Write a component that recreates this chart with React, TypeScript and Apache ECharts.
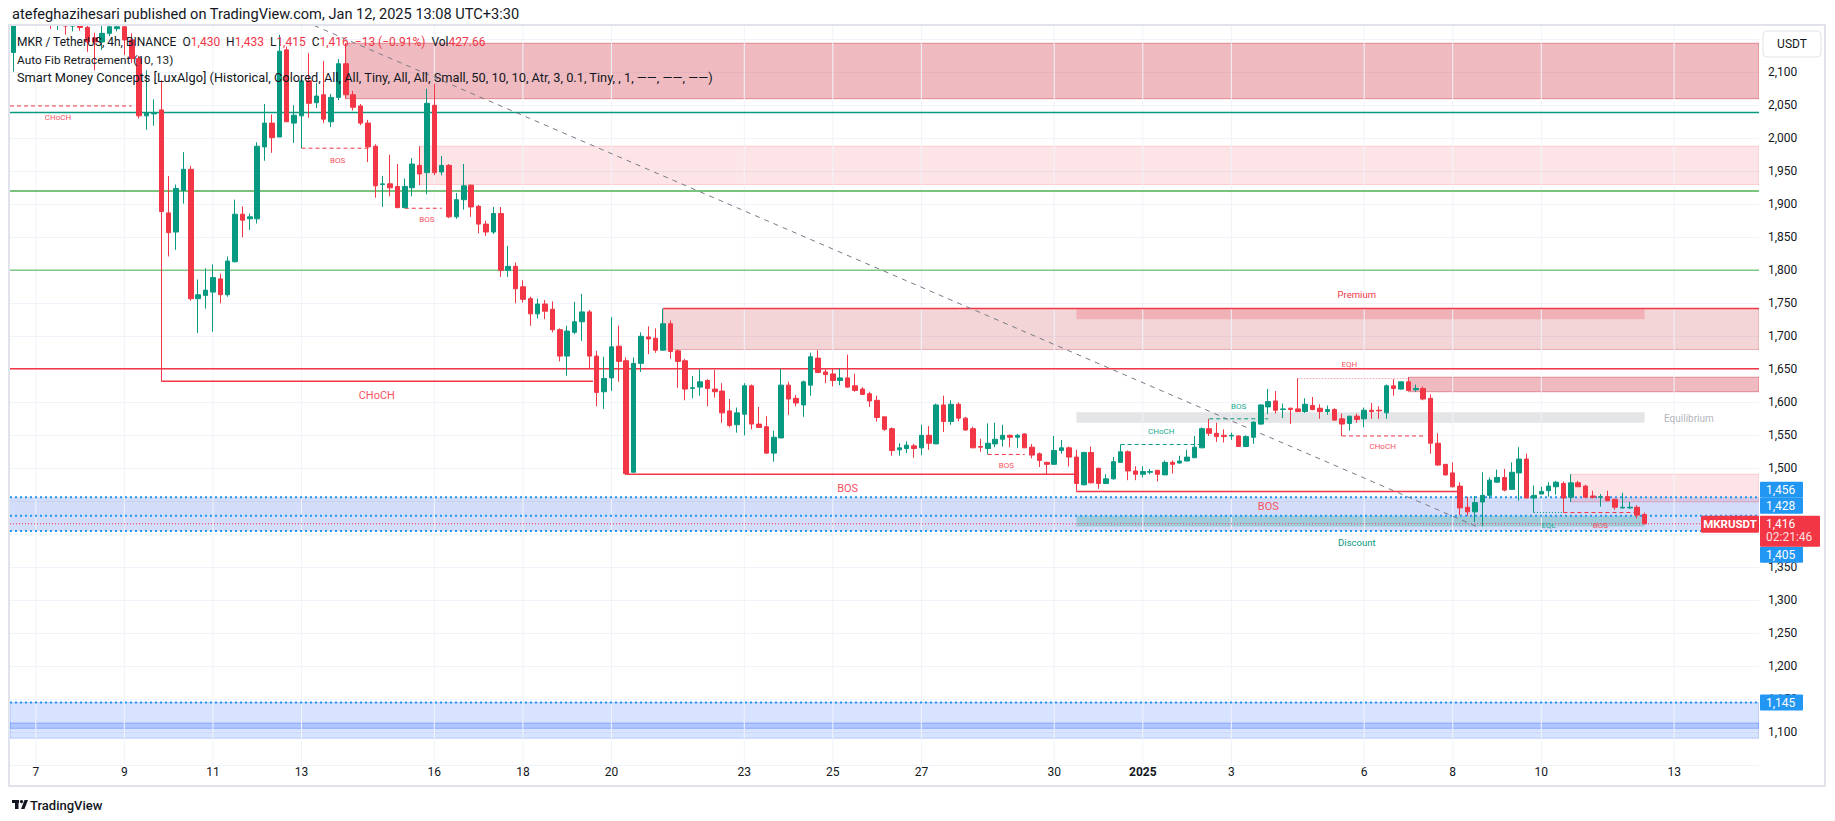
import React, { useEffect, useRef } from 'react';
import * as echarts from 'echarts';

// ---------- data ----------
const SLOTS = 237; // 4h slots on the time axis (222 candles + empty right margin)

// date labels on the time axis: [slot index, label]
const dayLabels: [number, string][] = [
  [3, '7'], [15, '9'], [27, '11'], [39, '13'], [57, '16'], [69, '18'], [81, '20'],
  [99, '23'], [111, '25'], [123, '27'], [141, '30'], [153, '2025'], [165, '3'],
  [183, '6'], [195, '8'], [207, '10'], [225, '13'],
];

// price-axis labels hidden behind the price tags
const hiddenPriceLabels = [1400, 1450];

// 4h candles [open, close, low, high]
const ohlc: number[][] = [
  [2130, 2185, 2101, 2200], [2185, 2205, 2178, 2215], [2205, 2195, 2185, 2220], [2195, 2210, 2188, 2225],
  [2210, 2190, 2180, 2218], [2190, 2178, 2166, 2200], [2178, 2190, 2164, 2198], [2192, 2170, 2157, 2200],
  [2170, 2182, 2162, 2192], [2182, 2168, 2163, 2190], [2168, 2146, 2131, 2176], [2152, 2146, 2103, 2160],
  [2146, 2159, 2134, 2172], [2159, 2169, 2155, 2178], [2166, 2169, 2162, 2176], [2169, 2149, 2126, 2176],
  [2149, 2121, 2114, 2159], [2121, 2034, 2030, 2125], [2034, 2039, 2013, 2103], [2037, 2039, 2019, 2059],
  [2043, 1889, 1632, 2088], [1887, 1857, 1821, 1943], [1858, 1924, 1831, 1930], [1921, 1953, 1901, 1979],
  [1953, 1757, 1754, 1958], [1757, 1763, 1705, 1786], [1762, 1770, 1742, 1803], [1767, 1789, 1707, 1809],
  [1787, 1763, 1750, 1795], [1763, 1814, 1760, 1821], [1813, 1885, 1812, 1907], [1885, 1876, 1850, 1897],
  [1878, 1881, 1861, 1886], [1878, 1988, 1871, 1994], [1987, 2023, 1966, 2052], [2023, 2001, 1978, 2036],
  [2002, 2132, 2002, 2157], [2134, 2025, 2025, 2139], [2023, 2035, 1993, 2050], [2034, 2087, 1985, 2090],
  [2087, 2053, 2031, 2129], [2054, 2064, 2046, 2084], [2066, 2029, 2023, 2117], [2025, 2062, 2017, 2067],
  [2062, 2113, 2058, 2120], [2113, 2066, 2060, 2144], [2066, 2047, 2042, 2072], [2049, 2023, 2020, 2052],
  [2023, 1987, 1964, 2028], [1988, 1928, 1910, 1991], [1930, 1931, 1896, 1943], [1931, 1925, 1912, 1975],
  [1927, 1895, 1894, 1961], [1895, 1927, 1894, 1939], [1925, 1961, 1912, 1970], [1959, 1946, 1929, 1988],
  [1948, 2053, 1915, 2075], [2050, 1948, 1944, 2083], [1949, 1959, 1944, 1973], [1959, 1881, 1879, 1961],
  [1881, 1907, 1878, 1917], [1907, 1928, 1892, 1961], [1929, 1896, 1881, 1930], [1897, 1870, 1856, 1899],
  [1870, 1858, 1852, 1875], [1858, 1886, 1855, 1896], [1886, 1800, 1790, 1896], [1800, 1806, 1790, 1837],
  [1806, 1772, 1750, 1812], [1775, 1756, 1751, 1785], [1757, 1734, 1716, 1760], [1734, 1749, 1727, 1757],
  [1749, 1738, 1726, 1755], [1741, 1710, 1706, 1753], [1710, 1670, 1662, 1712], [1670, 1708, 1640, 1716],
  [1706, 1722, 1703, 1752], [1722, 1737, 1693, 1764], [1737, 1670, 1651, 1740], [1670, 1615, 1594, 1678],
  [1616, 1636, 1590, 1669], [1637, 1684, 1617, 1729], [1685, 1662, 1631, 1716], [1663, 1492, 1490, 1668],
  [1494, 1659, 1494, 1668], [1659, 1700, 1646, 1706], [1699, 1696, 1673, 1715], [1697, 1679, 1675, 1712],
  [1679, 1719, 1678, 1742], [1719, 1677, 1666, 1724], [1678, 1662, 1622, 1680], [1663, 1620, 1603, 1666],
  [1621, 1622, 1606, 1640], [1623, 1631, 1610, 1650], [1633, 1621, 1594, 1635], [1620, 1616, 1607, 1649],
  [1617, 1584, 1569, 1629], [1587, 1565, 1562, 1605], [1566, 1584, 1554, 1592], [1582, 1625, 1550, 1629],
  [1625, 1567, 1559, 1627], [1567, 1562, 1561, 1593], [1563, 1523, 1522, 1579], [1523, 1547, 1510, 1557],
  [1546, 1626, 1546, 1651], [1626, 1605, 1581, 1631], [1606, 1599, 1594, 1611], [1596, 1631, 1578, 1633],
  [1626, 1669, 1610, 1675], [1667, 1645, 1645, 1679], [1646, 1642, 1629, 1652], [1643, 1633, 1624, 1651],
  [1633, 1637, 1626, 1651], [1637, 1623, 1622, 1672], [1625, 1618, 1616, 1643], [1620, 1612, 1611, 1623],
  [1613, 1602, 1593, 1616], [1603, 1577, 1571, 1610], [1578, 1559, 1557, 1578], [1560, 1527, 1519, 1562],
  [1528, 1531, 1519, 1538], [1530, 1535, 1523, 1541], [1534, 1530, 1516, 1537], [1531, 1550, 1520, 1566],
  [1550, 1538, 1528, 1564], [1537, 1596, 1537, 1598], [1596, 1571, 1555, 1610], [1571, 1597, 1566, 1603],
  [1597, 1576, 1571, 1600], [1576, 1558, 1557, 1578], [1560, 1531, 1531, 1563], [1533, 1532, 1525, 1545],
  [1530, 1538, 1521, 1568], [1537, 1544, 1532, 1569], [1544, 1550, 1533, 1566], [1550, 1547, 1532, 1551],
  [1547, 1550, 1531, 1552], [1552, 1531, 1531, 1553], [1532, 1520, 1515, 1537], [1522, 1512, 1502, 1524],
  [1509, 1506, 1491, 1510], [1506, 1527, 1506, 1549], [1527, 1531, 1522, 1543], [1531, 1517, 1503, 1533],
  [1517, 1477, 1465, 1528], [1475, 1524, 1474, 1525], [1524, 1478, 1477, 1533], [1500, 1477, 1469, 1501],
  [1477, 1484, 1476, 1491], [1484, 1510, 1483, 1517], [1509, 1525, 1509, 1536], [1525, 1496, 1482, 1527],
  [1496, 1491, 1482, 1503], [1491, 1495, 1486, 1503], [1494, 1495, 1491, 1499], [1497, 1491, 1480, 1497],
  [1490, 1509, 1490, 1512], [1509, 1506, 1492, 1512], [1508, 1511, 1507, 1519], [1511, 1517, 1511, 1528],
  [1516, 1532, 1516, 1549], [1531, 1560, 1531, 1562], [1560, 1553, 1549, 1575], [1553, 1548, 1540, 1569],
  [1550, 1548, 1539, 1559], [1549, 1550, 1543, 1554], [1549, 1533, 1533, 1550], [1533, 1548, 1532, 1550],
  [1547, 1570, 1537, 1571], [1567, 1596, 1566, 1597], [1593, 1601, 1582, 1620], [1602, 1588, 1583, 1617],
  [1589, 1590, 1576, 1598], [1591, 1589, 1567, 1592], [1590, 1586, 1585, 1636], [1586, 1597, 1584, 1606],
  [1595, 1589, 1588, 1608], [1591, 1586, 1575, 1597], [1586, 1589, 1581, 1595], [1589, 1573, 1572, 1591],
  [1575, 1567, 1549, 1583], [1568, 1579, 1557, 1579], [1579, 1574, 1569, 1583], [1575, 1588, 1562, 1592],
  [1588, 1586, 1575, 1599], [1588, 1587, 1575, 1594], [1584, 1625, 1575, 1627], [1625, 1621, 1610, 1635],
  [1620, 1631, 1619, 1631], [1631, 1618, 1617, 1638], [1619, 1621, 1616, 1627], [1621, 1605, 1603, 1624],
  [1606, 1538, 1522, 1612], [1538, 1505, 1504, 1553], [1506, 1490, 1489, 1506], [1493, 1472, 1471, 1509],
  [1473, 1440, 1429, 1479], [1441, 1434, 1428, 1457], [1434, 1448, 1419, 1458], [1449, 1459, 1412, 1494],
  [1459, 1482, 1454, 1486], [1479, 1486, 1478, 1498], [1486, 1467, 1465, 1499], [1468, 1494, 1468, 1509],
  [1493, 1514, 1451, 1532], [1514, 1455, 1455, 1522], [1455, 1459, 1433, 1474], [1461, 1465, 1461, 1472],
  [1466, 1473, 1457, 1479], [1472, 1479, 1460, 1481], [1477, 1455, 1433, 1480], [1456, 1478, 1449, 1491],
  [1478, 1472, 1472, 1481], [1473, 1456, 1456, 1475], [1458, 1456, 1454, 1466], [1456, 1457, 1442, 1461],
  [1457, 1451, 1450, 1466], [1453, 1441, 1437, 1454], [1440, 1441, 1439, 1463], [1440, 1441, 1439, 1449],
  [1441, 1429, 1424, 1444], [1430, 1416, 1415, 1433],
];

// price levels
const lastPrice = 1416;
const fibLevels: [number, string][] = [[2039, 'fibTeal'], [1920, 'fibGreen'], [1800, 'fibLightGreen'], [1651, 'fibRed']];
const dottedLevels = [1456, 1428, 1405, 1145];

// zones: [slot from, slot to, top price, bottom price, kind]
const zones: [number, number, number, number, string][] = [
  [-0.5, 236.5, 1456, 1405, 'fibBlue'],
  [-0.5, 236.5, 1145, 1091, 'fibBlueLow'],
  [-0.5, 236.5, 1114, 1106, 'fibBlueBand'],
  [45, 236.5, 2144, 2060, 'ob'],
  [55, 236.5, 1988, 1930, 'obLight'],
  [88, 236.5, 1742, 1680, 'premium'],
  [144, 221, 1741, 1726, 'premiumCore'],
  [189, 236.5, 1638, 1616, 'ob'],
  [144, 221, 1585, 1569, 'equilibrium'],
  [211, 236.5, 1491, 1449, 'obLight'],
  [144, 221, 1428, 1412, 'discount'],
];

// horizontal structure segments: [slot from, slot to, price, kind]
const segments: [number, number, number, string][] = [
  [88, 236.5, 1742, 'strongHigh'],
  [-0.5, 16, 2049, 'bearDash'],
  [39, 48.5, 1985, 'bearDash'],
  [53, 58, 1894, 'bearDash'],
  [20, 78.5, 1632, 'bearSolid'],
  [83, 143.8, 1491, 'bearSolid'],
  [144, 196.3, 1465, 'bearSolid'],
  [132, 137, 1521, 'bearDash'],
  [150, 161, 1536, 'bullDash'],
  [162, 170, 1575, 'bullDash'],
  [174, 189, 1636, 'eqh'],
  [180, 191, 1549, 'bearDash'],
  [206, 210, 1433, 'eql'],
  [210, 220, 1433, 'bearDash'],
];

// auto-fib trend line: [slot, price] pairs
const trendLine: [number, number][] = [[37, 2188.8], [198.3, 1411.5]];

// text labels: [slot, price, text, kind]
const marks: [number, number, string, string][] = [
  [6, 2031, 'CHoCH', 'redSmall'],
  [43.9, 1967, 'BOS', 'redSmall'],
  [56, 1877.6, 'BOS', 'redSmall'],
  [49.2, 1611, 'CHoCH', 'redBig'],
  [113, 1469, 'BOS', 'redBig'],
  [170, 1441.5, 'BOS', 'redBig'],
  [134.5, 1504.5, 'BOS', 'redSmall'],
  [155.5, 1555.5, 'CHoCH', 'tealSmall'],
  [166, 1593, 'BOS', 'tealSmall'],
  [181, 1657.6, 'EQH', 'redSmall'],
  [185.5, 1532.7, 'CHoCH', 'redSmall'],
  [208, 1414, 'EQL', 'tealSmall'],
  [215, 1414, 'BOS', 'redSmall'],
  [182, 1764, 'Premium', 'premium'],
  [182, 1388, 'Discount', 'discount'],
  [227, 1576, 'Equilibrium', 'equilibrium'],
];

// ---------- styles ----------
const UP = '#089981';
const DOWN = '#f23645';
const FONT = 'Roboto, "Noto Sans", sans-serif';
const TEXT = '#131722';

const zoneStyle: Record<string, any> = {
  fibBlue: { fill: 'rgba(33,80,220,0.2)' },
  fibBlueLow: { fill: 'rgba(41,98,255,0.18)', stroke: 'rgba(41,98,255,0.25)' },
  fibBlueBand: { fill: 'rgba(41,98,255,0.22)', stroke: 'rgba(41,98,255,0.35)' },
  ob: { fill: 'rgba(210,60,75,0.35)', stroke: 'rgba(210,60,75,0.5)' },
  obLight: { fill: 'rgba(242,54,69,0.13)', stroke: 'rgba(242,54,69,0.2)' },
  premium: { fill: 'rgba(200,60,75,0.22)', stroke: 'rgba(200,60,75,0.35)' },
  premiumCore: { fill: 'rgba(230,60,75,0.22)' },
  equilibrium: { fill: 'rgba(120,123,134,0.2)' },
  discount: { fill: 'rgba(8,153,129,0.25)' },
};

const lineStyle: Record<string, any> = {
  fibTeal: { stroke: '#089981', lineWidth: 1.5 },
  fibGreen: { stroke: '#4caf50', lineWidth: 1.5 },
  fibLightGreen: { stroke: '#81c784', lineWidth: 1.5 },
  fibRed: { stroke: '#f23645', lineWidth: 1.5 },
  strongHigh: { stroke: '#f23645', lineWidth: 1.5 },
  blueDot: { stroke: '#2196f3', lineWidth: 2, lineDash: [2, 3] },
  lastPrice: { stroke: '#f23645', lineWidth: 1, lineDash: [1, 2] },
  bearDash: { stroke: '#f23645', lineWidth: 1, lineDash: [4, 3] },
  bullDash: { stroke: '#089981', lineWidth: 1, lineDash: [4, 3] },
  bearSolid: { stroke: '#f23645', lineWidth: 1.5 },
  eqh: { stroke: '#f7a1a8', lineWidth: 1, lineDash: [1.5, 1.5] },
  eql: { stroke: '#089981', lineWidth: 1, lineDash: [1, 2] },
  trend: { stroke: '#787b86', lineWidth: 1, lineDash: [5, 5] },
  vgrid: { stroke: '#f0f3fa', lineWidth: 1 },
};

const markStyle: Record<string, any> = {
  redSmall: { fill: '#f7525f', font: `8px ${FONT}` },
  tealSmall: { fill: '#22ab94', font: `8px ${FONT}` },
  redBig: { fill: '#f7525f', font: `11px ${FONT}` },
  premium: { fill: '#f23645', font: `9.5px ${FONT}` },
  discount: { fill: '#089981', font: `9.5px ${FONT}` },
  equilibrium: { fill: '#b2b5be', font: `10px ${FONT}` },
};

const categories: string[] = [];
for (let i = 0; i < SLOTS; i++) {
  categories.push(new Date(Date.UTC(2024, 11, 6, 12, 0) + i * 4 * 3600 * 1000).toISOString());
}
const labelMap = new Map<number, string>(dayLabels);

export default function App() {
  const ref = useRef<HTMLDivElement>(null);

  useEffect(() => {
    const chart = echarts.init(ref.current!, null, { renderer: 'svg' });

    const allLines: [number, number, number, number, string][] = [];
    dayLabels.forEach(([k]) => allLines.push([k, 1050, k, 2200, 'vgrid']));
    fibLevels.forEach(([p, kind]) => allLines.push([-0.5, p, 236.5, p, kind]));
    dottedLevels.forEach((p) => allLines.push([-0.5, p, 236.5, p, 'blueDot']));
    allLines.push([-0.5, lastPrice, 236.5, lastPrice, 'lastPrice']);
    segments.forEach(([a, b, p, kind]) => allLines.push([a, p, b, p, kind]));
    allLines.push([trendLine[0][0], trendLine[0][1], trendLine[1][0], trendLine[1][1], 'trend']);

    const option: any = {
      animation: false,
      backgroundColor: '#ffffff',
      grid: { left: 10, right: 76, top: 6.3, bottom: 55.7, containLabel: false },
      xAxis: [
        {
          type: 'category',
          data: categories,
          boundaryGap: true,
          axisLine: { show: false },
          axisTick: { show: false },
          splitLine: { show: false },
          axisLabel: {
            interval: (i: number) => labelMap.has(i),
            formatter: (_v: string, i: number) => {
              const l = labelMap.get(i) || '';
              return l === '2025' ? '{b|2025}' : l;
            },
            rich: { b: { fontWeight: 'bold', fontSize: 12, color: TEXT, fontFamily: FONT } },
            color: TEXT,
            fontSize: 12,
            fontFamily: FONT,
            margin: 1,
          },
        },
        { type: 'value', min: -0.5, max: SLOTS - 0.5, show: false },
      ],
      yAxis: {
        type: 'value',
        position: 'right',
        min: 1050,
        max: 2200,
        interval: 50,
        axisLine: { show: false },
        axisTick: { show: false },
        splitLine: { lineStyle: { color: '#f0f3fa', width: 1 } },
        axisLabel: {
          formatter: (v: number) =>
            v > 2100 || v < 1100 || hiddenPriceLabels.includes(v) ? '' : v.toLocaleString('en-US'),
          color: TEXT,
          fontSize: 12,
          fontFamily: FONT,
          margin: 9,
        },
      },
      series: [
        {
          type: 'custom',
          name: 'zones',
          xAxisIndex: 1,
          yAxisIndex: 0,
          z: 1,
          silent: true,
          clip: true,
          data: zones.map((z) => [z[0], z[2]]),
          renderItem: (params: any, api: any) => {
            const z = zones[params.dataIndex];
            const a = api.coord([z[0], z[2]]);
            const b = api.coord([z[1], z[3]]);
            const st = zoneStyle[z[4]];
            return {
              type: 'rect',
              shape: { x: a[0], y: a[1], width: b[0] - a[0], height: b[1] - a[1] },
              style: { fill: st.fill, stroke: st.stroke || null, lineWidth: st.stroke ? 1 : 0 },
            };
          },
        },
        {
          type: 'custom',
          name: 'lines',
          xAxisIndex: 1,
          yAxisIndex: 0,
          z: 2,
          silent: true,
          clip: true,
          data: allLines.map((l) => [l[0], l[1]]),
          renderItem: (params: any, api: any) => {
            const l = allLines[params.dataIndex];
            const a = api.coord([l[0], l[1]]);
            const b = api.coord([l[2], l[3]]);
            const st = lineStyle[l[4]];
            return {
              type: 'line',
              shape: { x1: a[0], y1: a[1], x2: b[0], y2: b[1] },
              style: { stroke: st.stroke, lineWidth: st.lineWidth, lineDash: st.lineDash || null },
            };
          },
        },
        {
          type: 'candlestick',
          name: 'MKRUSDT',
          xAxisIndex: 0,
          yAxisIndex: 0,
          z: 3,
          barWidth: 5,
          data: ohlc,
          itemStyle: { color: UP, color0: DOWN, borderColor: UP, borderColor0: DOWN, borderWidth: 1 },
        },
        {
          type: 'custom',
          name: 'marks',
          xAxisIndex: 1,
          yAxisIndex: 0,
          z: 4,
          silent: true,
          clip: true,
          data: marks.map((m) => [m[0], m[1]]),
          renderItem: (params: any, api: any) => {
            const m = marks[params.dataIndex];
            const a = api.coord([m[0], m[1]]);
            const st = markStyle[m[3]];
            return {
              type: 'text',
              x: a[0],
              y: a[1],
              style: { text: m[2], fill: st.fill, font: st.font, align: 'center', verticalAlign: 'middle' },
            };
          },
        },
      ],
    };

    chart.setOption(option);

    const yOf = (p: number) => chart.convertToPixel({ yAxisIndex: 0 }, p) as number;
    const yr = yOf(lastPrice);
    const tagX = 1760;
    const tagFont = `12px ${FONT}`;
    const blueTag = (top: number, text: string) => [
      { type: 'rect', z: 60, shape: { x: tagX, y: top, width: 43, height: 16, r: 1 }, style: { fill: '#2196f3' } },
      { type: 'text', z: 61, x: tagX + 6, y: top + 8, style: { text, fill: '#ffffff', font: tagFont, verticalAlign: 'middle' } },
    ];

    const graphics: any[] = [
      // area above the price pane
      { type: 'rect', z: 50, shape: { x: 0, y: 0, width: 1835, height: 25 }, style: { fill: '#ffffff' } },
      // chart frame
      { type: 'rect', z: 51, shape: { x: 9, y: 25, width: 1816, height: 761 }, style: { fill: 'none', stroke: '#e0e3eb', lineWidth: 2 } },
      // header
      {
        type: 'text', z: 60, x: 12, y: 14,
        style: { text: 'atefeghazihesari published on TradingView.com, Jan 12, 2025 13:08 UTC+3:30', fill: TEXT, font: `14.6px ${FONT}`, verticalAlign: 'middle' },
      },
      {
        type: 'text', z: 60, x: 17, y: 41.5,
        style: {
          text: '{d|MKR / TetherUS, 4h, BINANCE}  {d|O}{r|1,430}  {d|H}{r|1,433}  {d|L}{r|1,415}  {d|C}{r|1,416}  {r|−13 (−0.91%)}  {d|Vol}{r|427.66}',
          fill: TEXT, fontSize: 12, fontFamily: FONT, verticalAlign: 'middle',
          rich: {
            d: { fill: TEXT, fontSize: 12, fontFamily: FONT },
            r: { fill: '#f23645', fontSize: 12, fontFamily: FONT },
          },
        },
      },
      {
        type: 'text', z: 60, x: 17, y: 59.5,
        style: { text: 'Auto Fib Retracement (10, 13)', fill: TEXT, font: `11.8px ${FONT}`, verticalAlign: 'middle' },
      },
      {
        type: 'text', z: 60, x: 17, y: 77,
        style: { text: 'Smart Money Concepts [LuxAlgo] (Historical, Colored, All, All, Tiny, All, All, Small, 50, 10, 10, Atr, 3, 0.1, Tiny, , 1, ——, ——, ——)', fill: TEXT, font: `12.8px ${FONT}`, verticalAlign: 'middle' },
      },
      // currency box
      { type: 'rect', z: 60, shape: { x: 1763, y: 31, width: 58, height: 26, r: 4 }, style: { fill: '#ffffff', stroke: '#e0e3eb', lineWidth: 1 } },
      { type: 'text', z: 61, x: 1792, y: 44, style: { text: 'USDT', fill: TEXT, font: `12px ${FONT}`, align: 'center', verticalAlign: 'middle' } },
      // price tags
      ...blueTag(yr - 42, '1,456'),
      ...blueTag(yr - 26, '1,428'),
      ...blueTag(yr + 23, '1,405'),
      ...blueTag(yOf(1145) - 8, '1,145'),
      { type: 'rect', z: 60, shape: { x: tagX, y: yr - 8, width: 60, height: 31, r: 1 }, style: { fill: '#f23645' } },
      { type: 'text', z: 61, x: tagX + 6, y: yr, style: { text: '1,416', fill: '#ffffff', font: tagFont, verticalAlign: 'middle' } },
      { type: 'text', z: 61, x: tagX + 6, y: yr + 13, style: { text: '02:21:46', fill: 'rgba(255,255,255,0.85)', font: tagFont, verticalAlign: 'middle' } },
      { type: 'rect', z: 60, shape: { x: 1701, y: yr - 8, width: 58, height: 17, r: 1 }, style: { fill: '#f23645' } },
      { type: 'text', z: 61, x: 1730, y: yr + 0.5, style: { text: 'MKRUSDT', fill: '#ffffff', font: `bold 11.5px ${FONT}`, align: 'center', verticalAlign: 'middle' } },
      // TradingView logo
      { type: 'rect', z: 60, shape: { x: 12, y: 800, width: 7, height: 3 }, style: { fill: TEXT } },
      { type: 'rect', z: 60, shape: { x: 15, y: 800, width: 3.5, height: 9 }, style: { fill: TEXT } },
      { type: 'circle', z: 60, shape: { cx: 21.5, cy: 801.6, r: 1.7 }, style: { fill: TEXT } },
      { type: 'polygon', z: 60, shape: { points: [[21, 809], [24.5, 800], [28, 800], [24.5, 809]] }, style: { fill: TEXT } },
      { type: 'text', z: 60, x: 30, y: 805, style: { text: 'TradingView', fill: TEXT, font: `500 13px ${FONT}`, verticalAlign: 'middle' } },
    ];

    chart.setOption({ graphic: graphics });

    return () => chart.dispose();
  }, []);

  return <div ref={ref} style={{ position: 'absolute', left: 0, top: 0, width: 1835, height: 821 }} />;
}
